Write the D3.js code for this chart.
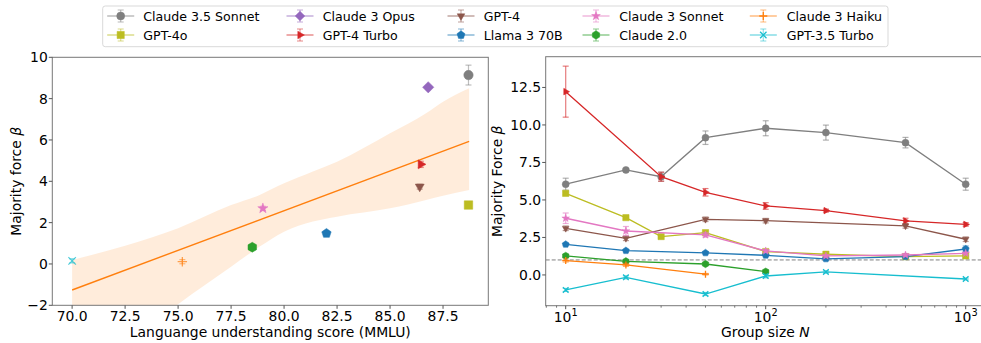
<!DOCTYPE html>
<html><head><meta charset="utf-8">
<script src="https://cdn.jsdelivr.net/npm/d3@7"></script>
<style>body{margin:0;background:#fff}svg{font-family:"DejaVu Sans",sans-serif;display:block}</style>
</head><body><svg id="c" width="981" height="343"></svg>
<script>
// ---------- data ----------
const models  = ["Claude 3.5 Sonnet","GPT-4o","Claude 3 Opus","GPT-4 Turbo","GPT-4","Llama 3 70B","Claude 3 Sonnet","Claude 2.0","Claude 3 Haiku","GPT-3.5 Turbo"];
const colors  = ["#7f7f7f","#bcbd22","#9467bd","#d62728","#8c564b","#1f77b4","#e377c2","#2ca02c","#ff7f0e","#17becf"];
const markers = ["circle","square","diamond","triRight","triDown","pentagon","star","hexagon","plus","x"];

// left panel: MMLU vs majority force
const mmlu    = [88.7, 88.7, 86.8, 86.45, 86.4, 82.0, 79.0, 78.5, 75.2, 70.0];
const beta    = [9.14, 2.85, 8.55, 4.82, 3.74, 1.48, 2.69, 0.81, 0.11, 0.15];
const betaErr = [0.48, 0.05, 0.05, 0.15, 0.12, 0.05, 0.10, 0.05, 0.10, 0.10];
const fitX = [70.0, 88.73];
const fitY = [-1.26, 5.93];
const bandX     = [70, 72.5, 75, 77.5, 78.85, 80, 81.36, 82.5, 85, 86.7, 87.5, 88.73];
const bandUpper = [0.19, 0.885, 1.73, 2.85, 3.34, 3.9, 4.47, 4.95, 6.32, 7.29, 7.85, 8.5];
const bandLower = [-6.2, -4.0, -1.95, -0.13, 0.84, 1.56, 2.05, 2.29, 2.69, 3.1, 3.3, 3.58];
const leftXTicks = [70, 72.5, 75, 77.5, 80, 82.5, 85, 87.5];
const leftYTicks = [-2, 0, 2, 4, 6, 8, 10];

// right panel: majority force vs group size
const groupSizes = [10, 20, 30, 50, 100, 200, 500, 1000];
const sonnet35   = [6.05, 7.00, 6.55, 9.15, 9.78, 9.49, 8.82, 6.05];
const sonnet35E  = [0.40, 0.10, 0.30, 0.45, 0.50, 0.50, 0.35, 0.40];
const gpt4o      = [5.44, 3.82, 2.56, 2.82, 1.56, 1.38, 1.22, 1.27];
const gpt4oE     = [0.10, 0.10, 0.08, 0.12, 0.08, 0.06, 0.06, 0.06];
const opus       = [null, null, null, null, null, null, null, null];
const opusE      = [null, null, null, null, null, null, null, null];
const gpt4turbo  = [12.22, null, 6.55, 5.51, 4.60, 4.29, 3.60, 3.37];
const gpt4turboE = [1.70, null, 0.30, 0.25, 0.22, 0.10, 0.18, 0.12];
const gpt4       = [3.11, 2.44, null, 3.71, 3.62, null, 3.27, 2.38];
const gpt4E      = [0.15, 0.15, null, 0.15, 0.15, null, 0.15, 0.15];
const llama      = [2.04, 1.62, null, 1.47, 1.31, 1.07, 1.22, 1.73];
const llamaE     = [0.08, 0.08, null, 0.08, 0.08, 0.08, 0.10, 0.20];
const sonnet3    = [3.78, 2.93, null, 2.67, 1.60, 1.27, 1.33, 1.44];
const sonnet3E   = [0.35, 0.30, null, 0.15, 0.10, 0.08, 0.10, 0.08];
const claude2    = [1.27, 0.91, null, 0.73, 0.22, null, null, null];
const claude2E   = [0.10, 0.10, null, 0.10, 0.10, null, null, null];
const haiku      = [0.96, 0.67, null, 0.05, null, null, null, null];
const haikuE     = [0.10, 0.10, null, 0.05, null, null, null, null];
const gpt35      = [-1.00, -0.16, null, -1.27, -0.07, 0.20, null, -0.27];
const gpt35E     = [0.10, 0.10, null, 0.10, 0.12, 0.08, null, 0.06];
const rightSeries = [sonnet35, gpt4o, opus, gpt4turbo, gpt4, llama, sonnet3, claude2, haiku, gpt35];
const rightErrors = [sonnet35E, gpt4oE, opusE, gpt4turboE, gpt4E, llamaE, sonnet3E, claude2E, haikuE, gpt35E];
const rightYTicks = [0, 2.5, 5, 7.5, 10, 12.5];
const rightXTicks = [10, 100, 1000];
const baselineBeta = 1;

// ---------- helpers ----------
const svg = d3.select("#c");
const FONT = 13.9;

function markerPath(t, r) {
  const p = d3.path();
  const poly = (n, rot, rr) => {
    for (let i = 0; i < n; i++) {
      const a = rot + i * 2 * Math.PI / n;
      const x = rr * Math.cos(a), y = rr * Math.sin(a);
      if (i) p.lineTo(x, y); else p.moveTo(x, y);
    }
    p.closePath();
  };
  switch (t) {
    case "circle": p.arc(0, 0, r, 0, 2 * Math.PI); break;
    case "square": p.rect(-r * 0.9, -r * 0.9, r * 1.8, r * 1.8); break;
    case "diamond": poly(4, -Math.PI / 2, r * 1.2); break;
    case "triDown": poly(3, Math.PI / 2, r * 1.1); break;
    case "triRight": poly(3, 0, r * 1.1); break;
    case "pentagon": poly(5, -Math.PI / 2, r * 1.05); break;
    case "hexagon": poly(6, -Math.PI / 2, r * 1.05); break;
    case "star": {
      for (let i = 0; i < 10; i++) {
        const a = -Math.PI / 2 + i * Math.PI / 5;
        const rr = (i % 2 === 0) ? r * 1.15 : r * 0.45;
        const x = rr * Math.cos(a), y = rr * Math.sin(a);
        if (i) p.lineTo(x, y); else p.moveTo(x, y);
      }
      p.closePath(); break;
    }
    case "plus": p.moveTo(-r, 0); p.lineTo(r, 0); p.moveTo(0, -r); p.lineTo(0, r); break;
    case "x": { const q = r * 0.8; p.moveTo(-q, -q); p.lineTo(q, q); p.moveTo(-q, q); p.lineTo(q, -q); break; }
  }
  return p.toString();
}
const stroked = t => t === "plus" || t === "x";

function drawMarker(g, t, x, y, r, color, op) {
  const s = stroked(t);
  g.append("path").attr("d", markerPath(t, r)).attr("transform", `translate(${x},${y})`)
    .attr("fill", s ? "none" : color).attr("stroke", color).attr("stroke-width", s ? 1.3 : 0.5)
    .attr("opacity", op == null ? 1 : op);
}
function drawErr(g, x, y0, y1, color, cap, op) {
  g.append("line").attr("x1", x).attr("x2", x).attr("y1", y0).attr("y2", y1)
    .attr("stroke", color).attr("stroke-width", 1.2).attr("opacity", op);
  [y0, y1].forEach(yy => g.append("line").attr("x1", x - cap).attr("x2", x + cap).attr("y1", yy).attr("y2", yy)
    .attr("stroke", color).attr("stroke-width", 1.2).attr("opacity", op));
}

// ---------- left panel ----------
const L = {x0: 52.3, x1: 488.3, y0: 57.3, y1: 305.3};
const xL = d3.scaleLinear().domain([69.065, 89.635]).range([L.x0, L.x1]);
const yL = d3.scaleLinear().domain([-2, 10]).range([L.y1, L.y0]);
svg.append("clipPath").attr("id", "clipL").append("rect")
  .attr("x", L.x0).attr("y", L.y0).attr("width", L.x1 - L.x0).attr("height", L.y1 - L.y0);
const gL = svg.append("g").attr("clip-path", "url(#clipL)");

const band = d3.area().x((d, i) => xL(bandX[i])).y0((d, i) => yL(bandLower[i])).y1((d, i) => yL(bandUpper[i])).curve(d3.curveMonotoneX);
gL.append("path").attr("d", band(bandX)).attr("fill", "#ff7f0e").attr("fill-opacity", 0.15);
gL.append("line").attr("x1", xL(fitX[0])).attr("x2", xL(fitX[1])).attr("y1", yL(fitY[0])).attr("y2", yL(fitY[1]))
  .attr("stroke", "#ff7f0e").attr("stroke-width", 1.4);

models.forEach((m, i) => {
  const x = xL(mmlu[i]), y = yL(beta[i]);
  drawErr(gL, x, yL(beta[i] - betaErr[i]), yL(beta[i] + betaErr[i]), colors[i], 3, 0.5);
  drawMarker(gL, markers[i], x, y, 4.7, colors[i], stroked(markers[i]) ? 0.7 : 1);
});

function frame(b, color) {
  svg.append("rect").attr("x", b.x0).attr("y", b.y0).attr("width", b.x1 - b.x0).attr("height", b.y1 - b.y0)
    .attr("fill", "none").attr("stroke", color).attr("stroke-width", 1);
}
frame(L, "#777");

const axL = svg.append("g");
leftYTicks.forEach(v => {
  const y = yL(v);
  axL.append("line").attr("x1", L.x0 - 3.5).attr("x2", L.x0).attr("y1", y).attr("y2", y).attr("stroke", "#555");
  axL.append("text").attr("x", L.x0 - 4.5).attr("y", y).attr("dy", "0.36em").attr("text-anchor", "end")
    .attr("font-size", FONT).text(v < 0 ? "\u2212" + Math.abs(v) : String(v));
});
leftXTicks.forEach(v => {
  const x = xL(v);
  axL.append("line").attr("x1", x).attr("x2", x).attr("y1", L.y1).attr("y2", L.y1 + 3.5).attr("stroke", "#555");
  axL.append("text").attr("x", x).attr("y", 321).attr("text-anchor", "middle").attr("font-size", FONT).text(v.toFixed(1));
});
svg.append("text").attr("x", (L.x0 + L.x1) / 2).attr("y", 337).attr("text-anchor", "middle").attr("font-size", FONT)
  .text("Languange understanding score (MMLU)");
{
  const t = svg.append("text").attr("transform", `translate(20.5,${(L.y0 + L.y1) / 2}) rotate(-90)`)
    .attr("text-anchor", "middle").attr("font-size", FONT);
  t.append("tspan").text("Majority force ");
  t.append("tspan").attr("font-style", "italic").text("\u03b2");
}

// ---------- right panel ----------
const R = {x0: 545.7, x1: 985.7, y0: 56.7, y1: 305.7};
const xR = d3.scaleLog().domain([Math.pow(10, 0.9), Math.pow(10, 3.1)]).range([R.x0, R.x1]);
const yR = d3.scaleLinear().domain([-2.05, 14.55]).range([R.y1, R.y0]);
svg.append("clipPath").attr("id", "clipR").append("rect")
  .attr("x", R.x0).attr("y", R.y0).attr("width", R.x1 - R.x0).attr("height", R.y1 - R.y0);
const gR = svg.append("g").attr("clip-path", "url(#clipR)");

gR.append("line").attr("x1", R.x0).attr("x2", R.x1).attr("y1", yR(baselineBeta)).attr("y2", yR(baselineBeta))
  .attr("stroke", "#808080").attr("stroke-width", 1).attr("stroke-dasharray", "4,2");

const lineGen = d3.line().defined(d => d.v != null).x(d => xR(d.n)).y(d => yR(d.v));
rightSeries.forEach((vals, i) => {
  const pts = groupSizes.map((n, k) => ({n, v: vals[k], e: rightErrors[i][k]})).filter(d => d.v != null);
  if (!pts.length) return;
  gR.append("path").attr("d", lineGen(pts)).attr("fill", "none").attr("stroke", colors[i]).attr("stroke-width", 1.3);
  pts.forEach(d => drawErr(gR, xR(d.n), yR(d.v - d.e), yR(d.v + d.e), colors[i], 3, 0.6));
  pts.forEach(d => drawMarker(gR, markers[i], xR(d.n), yR(d.v), 3.5, colors[i]));
});
frame(R, "#777");

const axR = svg.append("g");
rightYTicks.forEach(v => {
  const y = yR(v);
  axR.append("line").attr("x1", R.x0 - 3.5).attr("x2", R.x0).attr("y1", y).attr("y2", y).attr("stroke", "#555");
  axR.append("text").attr("x", R.x0 - 4.5).attr("y", y).attr("dy", "0.36em").attr("text-anchor", "end")
    .attr("font-size", FONT).text(v.toFixed(1));
});
const minor = [];
[1, 10, 100].forEach(b => { for (let k = 2; k <= 9; k++) minor.push(b * k); });
minor.filter(v => v >= xR.domain()[0] && xR(v) <= 981).forEach(v => {
  const x = xR(v);
  axR.append("line").attr("x1", x).attr("x2", x).attr("y1", R.y1).attr("y2", R.y1 + 2).attr("stroke", "#555").attr("stroke-width", 0.8);
});
rightXTicks.forEach(v => {
  const x = xR(v);
  axR.append("line").attr("x1", x).attr("x2", x).attr("y1", R.y1).attr("y2", R.y1 + 3.5).attr("stroke", "#555");
  const t = axR.append("text").attr("x", x).attr("y", 321.5).attr("text-anchor", "middle").attr("font-size", FONT);
  t.append("tspan").text("10");
  t.append("tspan").attr("font-size", FONT * 0.7).attr("dy", -6).text(String(Math.round(Math.log10(v))));
});
{
  const t = svg.append("text").attr("x", (R.x0 + 981) / 2 + 2).attr("y", 336.5).attr("text-anchor", "middle").attr("font-size", FONT);
  t.append("tspan").text("Group size ");
  t.append("tspan").attr("font-style", "italic").text("N");
}
{
  const t = svg.append("text").attr("transform", `translate(502,${(R.y0 + R.y1) / 2}) rotate(-90)`)
    .attr("text-anchor", "middle").attr("font-size", FONT);
  t.append("tspan").text("Majority Force ");
  t.append("tspan").attr("font-style", "italic").text("\u03b2");
}

// ---------- legend ----------
const legendCols = [[120.7, 143.3], [300, 322.7], [461, 483.7], [596, 619.3], [763.3, 786.7]];
const legendRows = [16, 35];
svg.append("rect").attr("x", 102.7).attr("y", 6).attr("width", 785.3).attr("height", 40.7).attr("rx", 2.5)
  .attr("fill", "#fff").attr("stroke", "#d9d9d9").attr("stroke-width", 1);
models.forEach((m, i) => {
  const c = Math.floor(i / 2), r = i % 2;
  const cx = legendCols[c][0], cy = legendRows[r];
  const g = svg.append("g");
  g.append("line").attr("x1", cx - 13.5).attr("x2", cx + 13.5).attr("y1", cy).attr("y2", cy)
    .attr("stroke", colors[i]).attr("stroke-width", 1.3).attr("opacity", 0.6);
  drawErr(g, cx, cy - 6, cy + 6, colors[i], 3, 0.45);
  drawMarker(g, markers[i], cx, cy, 4, colors[i]);
  g.append("text").attr("x", legendCols[c][1]).attr("y", cy).attr("dy", "0.36em").attr("font-size", 12.6).text(m);
});
</script></body></html>
